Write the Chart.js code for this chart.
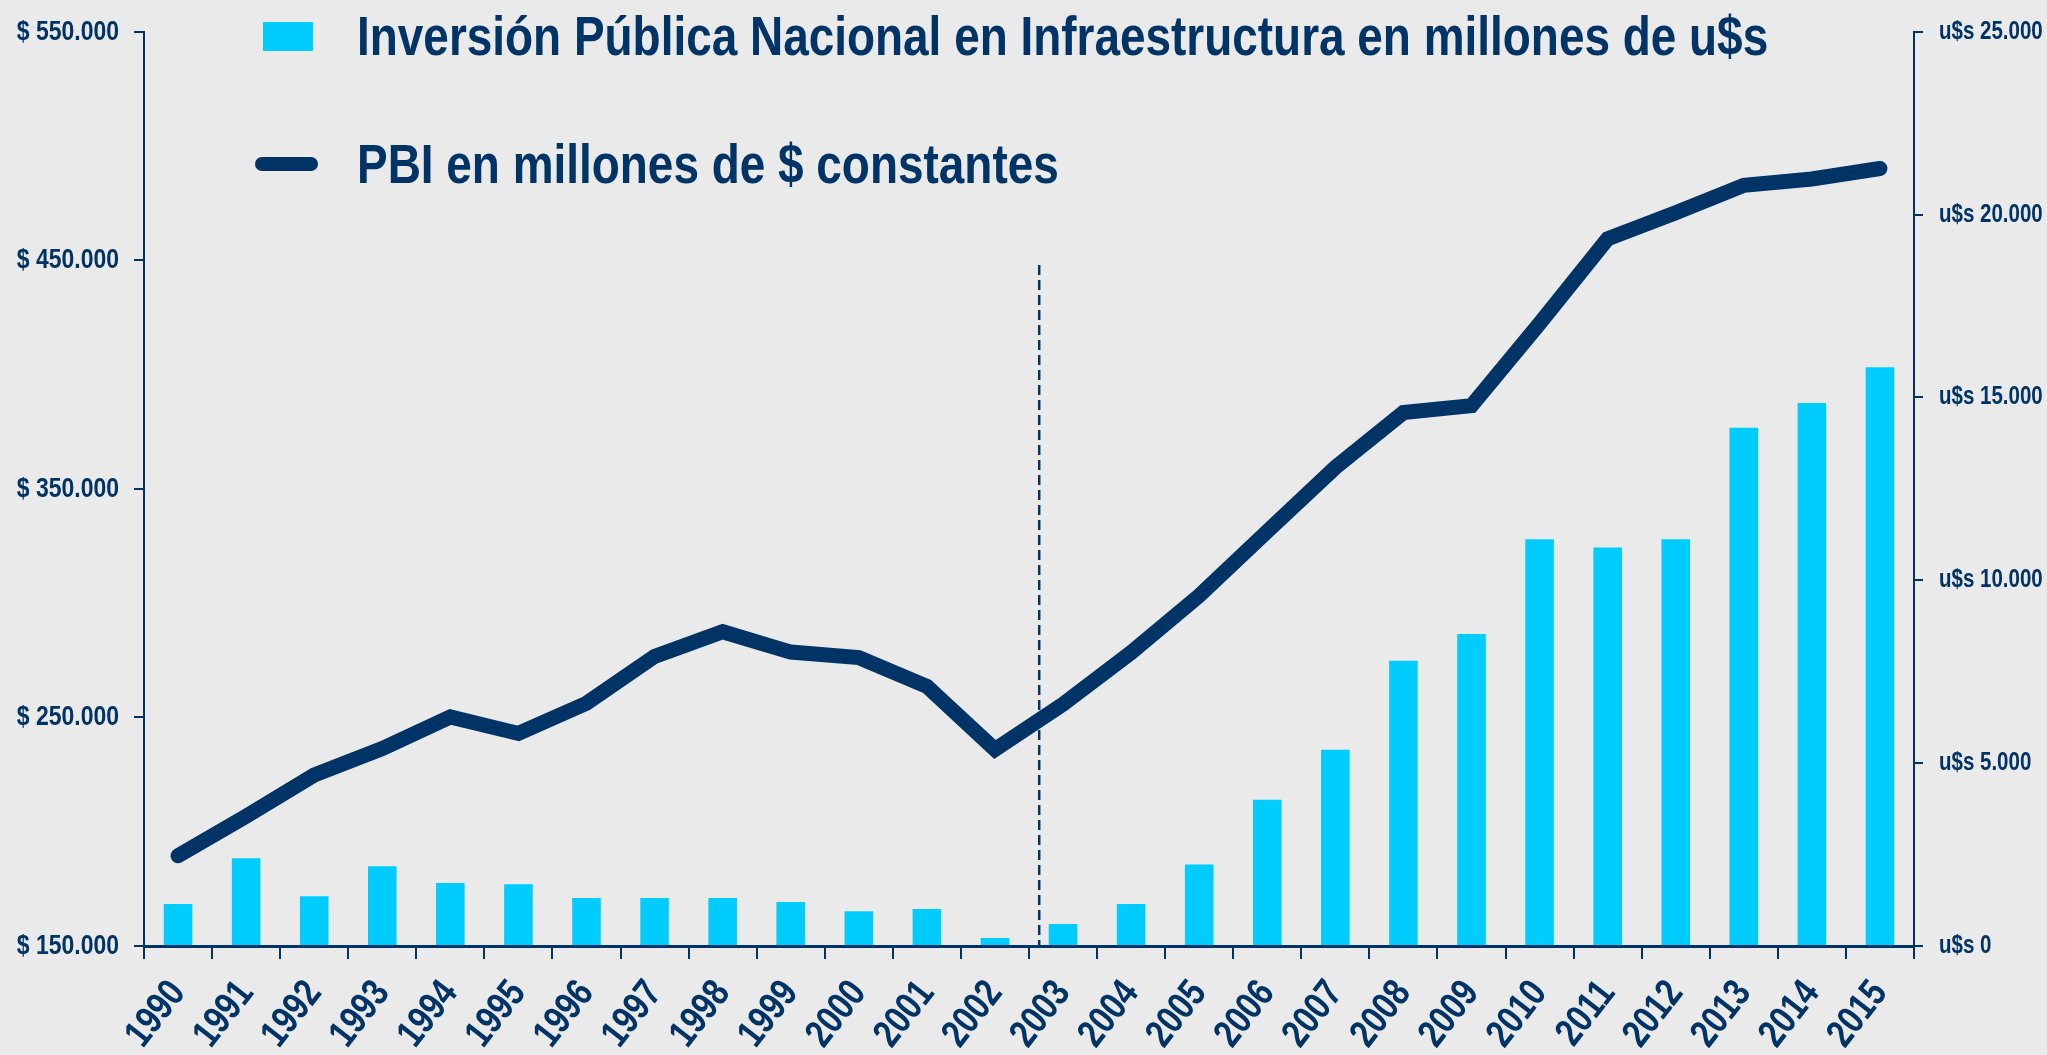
<!DOCTYPE html>
<html>
<head>
<meta charset="utf-8">
<script src="https://cdn.jsdelivr.net/npm/chart.js@4.4.1/dist/chart.umd.min.js"></script>
<style>
  html, body { margin: 0; padding: 0; background: #eaeaea; }
  #wrap { position: relative; width: 2047px; height: 1055px; }
</style>
</head>
<body>
<div id="wrap"><canvas id="c"></canvas></div>
<script>
// ---- Data ----
const years = ['1990','1991','1992','1993','1994','1995','1996','1997','1998','1999','2000','2001','2002',
               '2003','2004','2005','2006','2007','2008','2009','2010','2011','2012','2013','2014','2015'];
// Inversión Pública Nacional en Infraestructura (millones de u$s) - right axis
const inversion = [1150, 2400, 1360, 2180, 1720, 1690, 1310, 1310, 1310, 1200, 950, 1010, 220,
                   600, 1150, 2230, 4000, 5370, 7800, 8530, 11120, 10900, 11120, 14170, 14850, 15830];
// PBI en millones de $ constantes - left axis
const pbi = [189500, 206800, 224800, 236400, 250200, 243000, 256200, 276700, 287500, 278600, 276200, 263600, 236000,
             255800, 278400, 303300, 331400, 359400, 383400, 386400, 422400, 459400, 470800, 482800, 485600, 490200];
const seriesNames = ['Inversión Pública Nacional en Infraestructura en millones de u$s', 'PBI en millones de $ constantes'];
const leftAxisRange = [150000, 550000, 100000];
const rightAxisRange = [0, 25000, 5000];
// vertical dashed divider: category position (between 2002 and 2003) and top value on left axis
const dividerPos = 12.65;
const dividerTop = 448000;

const NAVY = '#003366';
const CYAN = '#00ccff';
const FONT = "'Liberation Sans', Arial, sans-serif";
const CONDENSE = 0.82; // emulate a narrow (condensed) typeface

const canvas = document.getElementById('c');
const ctx2d = canvas.getContext('2d');
(function condenseText(ctx) {
  const origFill = ctx.fillText.bind(ctx);
  const origMeasure = ctx.measureText.bind(ctx);
  ctx.fillText = function (text, x, y, maxWidth) {
    ctx.save();
    ctx.translate(x, y);
    ctx.scale(CONDENSE, 1);
    if (maxWidth === undefined || maxWidth === null) origFill(text, 0, 0);
    else origFill(text, 0, 0, maxWidth / CONDENSE);
    ctx.restore();
  };
  ctx.measureText = function (text) {
    const m = origMeasure(text);
    return {
      width: m.width * CONDENSE,
      actualBoundingBoxLeft: m.actualBoundingBoxLeft * CONDENSE,
      actualBoundingBoxRight: m.actualBoundingBoxRight * CONDENSE,
      actualBoundingBoxAscent: m.actualBoundingBoxAscent,
      actualBoundingBoxDescent: m.actualBoundingBoxDescent,
      fontBoundingBoxAscent: m.fontBoundingBoxAscent,
      fontBoundingBoxDescent: m.fontBoundingBoxDescent
    };
  };
})(ctx2d);

function thousands(v) {
  return String(Math.round(v)).replace(/\B(?=(\d{3})+(?!\d))/g, '.');
}

const dividerPlugin = {
  id: 'divider',
  afterDatasetsDraw(chart) {
    const x = chart.scales.x.getPixelForValue(dividerPos);
    const yTop = chart.scales.y.getPixelForValue(dividerTop);
    const yBot = chart.chartArea.bottom;
    const ctx = chart.ctx;
    ctx.save();
    ctx.strokeStyle = NAVY;
    ctx.lineWidth = 2.5;
    ctx.setLineDash([10, 5]);
    ctx.beginPath();
    ctx.moveTo(x, yTop);
    ctx.lineTo(x, yBot);
    ctx.stroke();
    ctx.restore();
  }
};

const legendPlugin = {
  id: 'customLegend',
  afterDraw(chart) {
    const ctx = chart.ctx;
    const ds = chart.data.datasets;
    ctx.save();
    ctx.font = "bold 56px " + FONT;
    ctx.textBaseline = 'alphabetic';
    ctx.textAlign = 'left';
    // bar item
    ctx.fillStyle = ds[0].backgroundColor;
    ctx.fillRect(263, 22, 50, 29);
    ctx.fillStyle = NAVY;
    ctx.fillText(ds[0].label, 357, 55);
    // line item
    ctx.strokeStyle = ds[1].borderColor;
    ctx.lineWidth = 14;
    ctx.lineCap = 'round';
    ctx.beginPath();
    ctx.moveTo(262, 164);
    ctx.lineTo(311, 164);
    ctx.stroke();
    ctx.fillText(ds[1].label, 357, 183);
    ctx.restore();
  }
};

new Chart(canvas, {
  data: {
    labels: years,
    datasets: [
      {
        type: 'bar',
        label: seriesNames[0],
        data: inversion,
        yAxisID: 'y2',
        backgroundColor: CYAN,
        borderWidth: 0,
        barPercentage: 0.42,
        categoryPercentage: 1.0,
        order: 2
      },
      {
        type: 'line',
        label: seriesNames[1],
        data: pbi,
        yAxisID: 'y',
        borderColor: NAVY,
        backgroundColor: NAVY,
        borderWidth: 15,
        borderCapStyle: 'round',
        borderJoinStyle: 'miter',
        pointRadius: 0,
        pointHoverRadius: 0,
        tension: 0,
        fill: false,
        order: 1
      }
    ]
  },
  options: {
    responsive: true,
    maintainAspectRatio: false,
    animation: false,
    events: [],
    layout: { padding: { top: 29, left: 0, right: 0, bottom: 0 } },
    plugins: {
      legend: { display: false },
      tooltip: { enabled: false },
      title: { display: false }
    },
    scales: {
      x: {
        type: 'category',
        offset: true,
        border: { display: true, color: NAVY, width: 3 },
        grid: { display: true, offset: true, drawOnChartArea: false, drawTicks: true, tickLength: 13, color: NAVY, lineWidth: 2 },
        ticks: {
          color: NAVY,
          font: { family: FONT, size: 39, weight: 'bold' },
          minRotation: 52,
          maxRotation: 52,
          autoSkip: false,
          padding: 13
        },
        afterFit(s) { s.height = 109; }
      },
      y: {
        type: 'linear',
        position: 'left',
        min: leftAxisRange[0],
        max: leftAxisRange[1],
        border: { display: true, color: NAVY, width: 2 },
        grid: { display: true, drawOnChartArea: false, drawTicks: true, tickLength: 10, color: NAVY, lineWidth: 2 },
        ticks: {
          stepSize: leftAxisRange[2],
          color: NAVY,
          font: { family: FONT, size: 28, weight: 'bold' },
          padding: 15,
          callback: (v) => '$ ' + thousands(v)
        },
        afterFit(s) { s.width = 144; }
      },
      y2: {
        type: 'linear',
        position: 'right',
        min: rightAxisRange[0],
        max: rightAxisRange[1],
        border: { display: true, color: NAVY, width: 2 },
        grid: { display: true, drawOnChartArea: false, drawTicks: true, tickLength: 9, color: NAVY, lineWidth: 2 },
        ticks: {
          stepSize: rightAxisRange[2],
          color: NAVY,
          font: { family: FONT, size: 25, weight: 'bold' },
          padding: 16,
          callback: (v) => 'u$s ' + thousands(v)
        },
        afterFit(s) { s.width = 133; }
      }
    }
  },
  plugins: [dividerPlugin, legendPlugin]
});
</script>
</body>
</html>
